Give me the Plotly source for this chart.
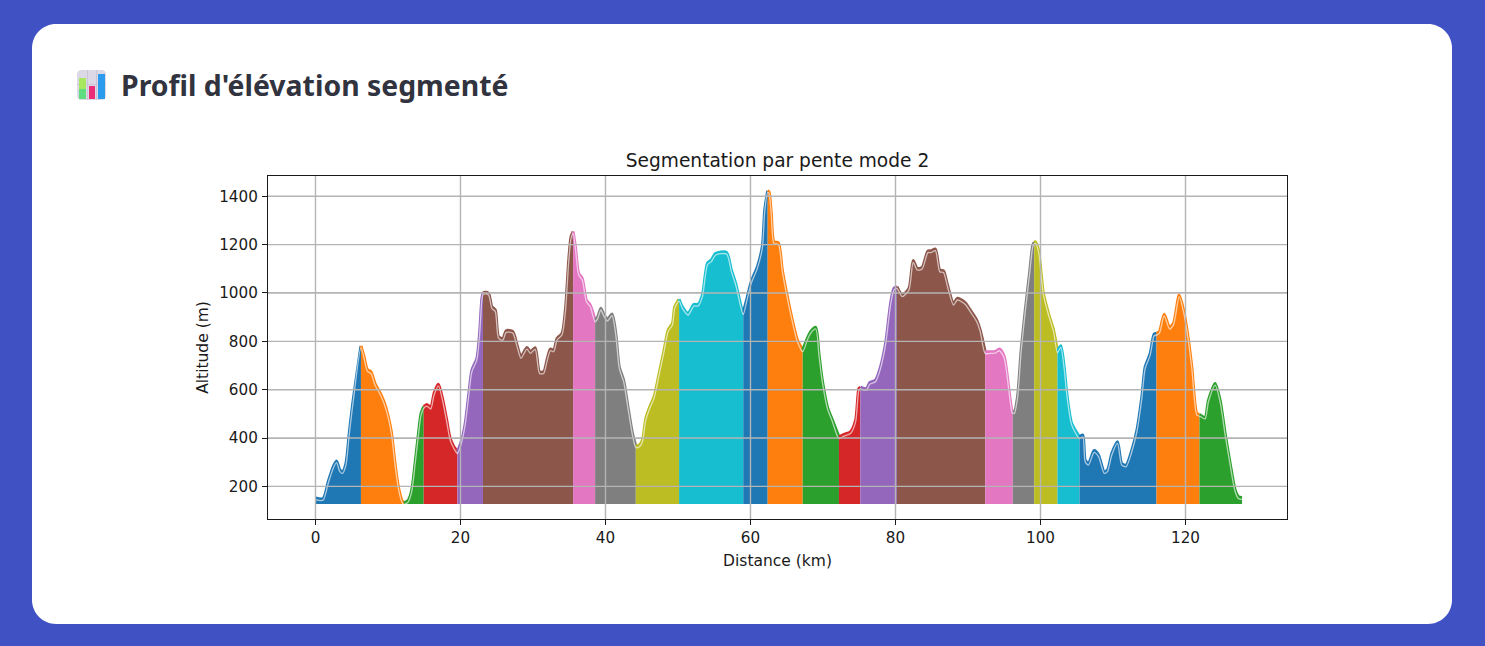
import numpy as np
import plotly.graph_objects as go

# Elevation profile, km along the route and altitude in metres
distance_km = [
    0, 1.06, 1.75, 2.44, 2.9, 3.36, 3.73, 4.2, 4.65, 5.2, 6.27,
    6.7, 7.14, 7.65, 8.2, 8.9, 9.45, 10.05, 10.5, 10.97, 11.43, 11.9, 12.2,
    12.8, 13.27, 13.73, 14.2, 14.56, 14.93,
    15.35, 15.9, 16.36, 16.96, 17.56, 18.1, 18.57, 19.03, 19.58,
    20.18, 20.65, 21.1, 21.57, 22.26, 22.63, 22.95, 23.1,
    23.35, 23.87, 24.33, 24.8, 25.25, 25.85, 26.3, 27.2, 27.8, 28.34, 29.17, 29.63,
    30.3, 30.9, 31.47, 31.93, 32.4, 32.86, 33.32, 34.0, 34.47, 34.93, 35.25, 35.53,
    35.85, 36.3, 36.8, 37.36, 37.9, 38.57,
    38.94, 39.36, 39.8, 40.27, 40.9, 41.42, 41.9, 42.5, 43.03, 43.72, 44.18,
    44.64, 45.1, 45.56, 46.15, 46.7, 47.4, 48.08, 48.64, 49.23, 49.55, 50.15,
    50.6, 51.4, 52.2, 52.77, 53.37, 54.06, 54.6, 55.2, 56.7, 57.36, 57.96, 58.65, 59.0,
    59.57, 60.1, 60.95, 61.63, 61.96, 62.37,
    62.55, 62.87, 63.24, 63.84, 64.39, 65.08, 65.77, 66.46, 67.2,
    67.84, 68.3, 69.0, 69.44, 69.9, 70.6, 71.3, 72.2,
    72.9, 73.8, 74.5, 74.95, 75.14,
    76.0, 76.47, 77.25, 77.94, 78.63, 79.32, 79.78, 80.2,
    80.93, 81.85, 82.44, 83.0, 83.68, 84.47, 84.9, 85.5, 86.1, 86.62, 87.17, 88.0,
    88.55, 89.6, 90.3, 91.2, 91.68, 92.37,
    93.06, 93.75, 94.34, 94.99, 95.6, 96.05, 96.18,
    96.4, 96.83, 97.33, 97.9, 98.48, 98.94, 99.13,
    99.3, 99.72, 100.4, 101.1, 101.8, 102.34,
    102.8, 103.26, 103.63, 104.3, 105.38,
    105.84, 106.16, 106.62, 107.4, 108.0, 108.78, 109.24, 109.84, 110.62, 111.2, 111.8,
    112.6, 113.3, 113.98, 114.44, 115.13, 115.68, 116.0,
    116.4, 117.06, 117.8, 118.34, 119.13, 119.72, 120.28, 120.87, 121.56, 121.93,
    122.7, 123.17, 124.09, 124.77, 125.47, 126.16, 126.85, 127.3, 127.8,
]
altitude_m = [
    152, 150, 219, 281, 305, 268, 261, 295, 419, 557, 781,
    737, 684, 674, 626, 588, 550, 488, 419, 295, 199, 143, 132,
    143, 185, 295, 419, 502, 530,
    539, 527, 585, 623, 557, 474, 399, 367, 343,
    392, 461, 571, 681, 730, 833, 978, 1000,
    1003, 999, 943, 930, 819, 812, 844, 841, 785, 737, 775, 757,
    774, 674, 674, 723, 768, 764, 812, 833, 930, 1137, 1233, 1254,
    1192, 1081, 1060, 971, 950, 888,
    902, 937, 910, 891, 913, 833, 695, 640, 543, 419, 368,
    370, 392, 481, 532, 571, 668, 764, 847, 874, 943, 974,
    943, 916, 953, 953, 992, 1123, 1137, 1164, 1168, 1095, 1040, 950, 918,
    985, 1047, 1109, 1192, 1343, 1423,
    1419, 1330, 1212, 1208, 1095, 985, 888, 806, 764,
    812, 840, 858, 750, 640, 530, 474, 405,
    415, 426, 474, 605, 610,
    605, 630, 640, 695, 792, 957, 1019, 1026,
    992, 1019, 1134, 1102, 1106, 1174, 1174, 1182, 1095, 1092, 1033, 957,
    978, 960, 930, 888, 847, 757,
    757, 758, 768, 737, 612, 515, 510,
    509, 571, 764, 930, 1081, 1199, 1210,
    1212, 1178, 999, 916, 847, 760,
    782, 695, 585, 461, 405,
    412, 309, 295, 348, 330, 261, 268, 337, 385, 295, 288,
    350, 433, 571, 695, 750, 830, 833,
    840, 912, 858, 874, 992, 930, 833, 695, 502, 498,
    486, 557, 626, 557, 419, 295, 185, 157, 153,
]

# Kilometre marks where one slope segment hands over to the next
segment_breaks_km = [
    0, 6.27, 12.2, 14.93, 19.58, 23.1, 35.53, 38.57, 44.18, 50.15, 59.0, 62.37,
    67.2, 72.2, 75.14, 80.2, 92.37, 96.18, 99.13, 102.34, 105.38, 116.0, 121.93, 127.8,
]
segment_colors = [
    "#1f77b4", "#ff7f0e", "#2ca02c", "#d62728", "#9467bd",
    "#8c564b", "#e377c2", "#7f7f7f", "#bcbd22", "#17becf",
]
x_ticks = [0, 20, 40, 60, 80, 100, 120]
y_ticks = [200, 400, 600, 800, 1000, 1200, 1400]
fill_floor_m = 127
raw_line_drop_m = 7

WIDTH, HEIGHT = 1485, 646
AX_L, AX_R, AX_T, AX_B = 268, 1287, 176, 519


def page_x(px):
    return (px - AX_L) / (AX_R - AX_L)


def page_y(py):
    return (AX_B - py) / (AX_B - AX_T)


def box(x0, y0, x1, y1, color, **kw):
    return dict(type="rect", xref="paper", yref="paper", x0=page_x(x0), x1=page_x(x1),
                y0=page_y(y1), y1=page_y(y0), fillcolor=color, line_width=0, **kw)


def rounded_box(x0, y0, x1, y1, r, color, layer="below"):
    c = 0.45 * r
    X, Y = page_x, page_y
    path = (
        f"M {X(x0 + r)} {Y(y0)} L {X(x1 - r)} {Y(y0)} "
        f"C {X(x1 - c)} {Y(y0)} {X(x1)} {Y(y0 + c)} {X(x1)} {Y(y0 + r)} "
        f"L {X(x1)} {Y(y1 - r)} "
        f"C {X(x1)} {Y(y1 - c)} {X(x1 - c)} {Y(y1)} {X(x1 - r)} {Y(y1)} "
        f"L {X(x0 + r)} {Y(y1)} "
        f"C {X(x0 + c)} {Y(y1)} {X(x0)} {Y(y1 - c)} {X(x0)} {Y(y1 - r)} "
        f"L {X(x0)} {Y(y0 + r)} "
        f"C {X(x0)} {Y(y0 + c)} {X(x0 + c)} {Y(y0)} {X(x0 + r)} {Y(y0)} Z"
    )
    return dict(type="path", xref="paper", yref="paper", path=path, fillcolor=color,
                line_width=0, layer=layer)


km = np.array(distance_km)
alt = np.array(altitude_m)
curve = dict(shape="spline", smoothing=0.7)

fig = go.Figure()

# Filled slope segments, cycling through the ten-colour palette
for i in range(len(segment_breaks_km) - 1):
    start, end = segment_breaks_km[i], segment_breaks_km[i + 1]
    mask = (km >= start) & (km <= end)
    seg_x, seg_y = km[mask].tolist(), alt[mask].tolist()
    color = segment_colors[i % len(segment_colors)]
    fig.add_trace(go.Scatter(
        x=seg_x + [seg_x[-1], seg_x[0]],
        y=seg_y + [fill_floor_m, fill_floor_m],
        mode="lines", fill="toself", fillcolor=color,
        line=dict(width=0), hoverinfo="skip", showlegend=False,
    ))
    fig.add_trace(go.Scatter(
        x=seg_x, y=seg_y, mode="lines",
        line=dict(color=color, width=3, **curve), hoverinfo="skip", showlegend=False,
    ))

# Pale raw altitude trace sitting just inside the coloured edge
fig.add_trace(go.Scatter(
    x=distance_km, y=(alt - raw_line_drop_m).tolist(), mode="lines",
    line=dict(color="rgba(255,255,255,0.62)", width=1.3, **curve),
    hoverinfo="skip", showlegend=False,
))

GRID = "#b4b4b4"
shapes = [
    dict(type="rect", xref="paper", yref="paper", x0=page_x(0), x1=page_x(WIDTH),
         y0=page_y(HEIGHT), y1=page_y(0), fillcolor="#3f51c3", line_width=0, layer="below"),
    rounded_box(32, 24, 1452, 624, 24, "#ffffff"),
]
# Grid runs over the filled area as well as the blank background
for t in x_ticks:
    shapes.append(dict(type="line", xref="x", yref="paper", x0=t, x1=t, y0=0, y1=1,
                       line=dict(color=GRID, width=1.4), layer="above"))
for t in y_ticks:
    shapes.append(dict(type="line", xref="paper", yref="y", x0=0, x1=1, y0=t, y1=t,
                       line=dict(color=GRID, width=1.4), layer="above"))

# Small bar-chart icon beside the heading
shapes += [
    rounded_box(77, 70, 106, 100, 4, "#dcd8e6", layer="above"),
    box(87, 70, 88, 100, "#c9c4d6", layer="above"),
    box(96, 70, 97, 100, "#c9c4d6", layer="above"),
    box(77, 84, 106, 85, "#c9c4d6", layer="above"),
    box(79, 78, 86, 89, "#a8e860", layer="above"),
    box(79, 89, 86, 99, "#5fdc80", layer="above"),
    box(89, 86, 95, 99, "#ea2f78", layer="above"),
    box(98, 74, 105, 99, "#2b9bee", layer="above"),
]

axis_style = dict(
    showgrid=True, gridcolor=GRID, gridwidth=1, zeroline=False,
    showline=True, linecolor="#1a1a1a", linewidth=1.2, mirror=True,
    ticks="outside", ticklen=5, tickwidth=1, tickcolor="#1a1a1a",
    tickfont=dict(family="DejaVu Sans", size=15.2, color="#1a1a1a"),
)

fig.update_layout(
    width=WIDTH, height=HEIGHT,
    margin=dict(l=AX_L, r=WIDTH - AX_R, t=AX_T, b=HEIGHT - AX_B, pad=0),
    paper_bgcolor="#3f51c3", plot_bgcolor="rgba(0,0,0,0)",
    showlegend=False,
    shapes=shapes,
    title=dict(
        text="Segmentation par pente mode 2",
        font=dict(family="DejaVu Sans", size=18.6, color="#1a1a1a"),
        xref="paper", x=0.5, xanchor="center",
        yref="paper", y=1, yanchor="bottom", pad=dict(b=9),
    ),
    xaxis=dict(
        range=[-6.55, 134.0], tickvals=x_ticks,
        title=dict(text="Distance (km)", standoff=8,
                   font=dict(family="DejaVu Sans", size=15.5, color="#1a1a1a")),
        **axis_style,
    ),
    yaxis=dict(
        range=[65, 1484], tickvals=y_ticks, ticklabelstandoff=1,
        title=dict(text="Altitude (m)", standoff=6,
                   font=dict(family="DejaVu Sans", size=15.5, color="#1a1a1a")),
        **axis_style,
    ),
    annotations=[dict(
        text="<b>Profil d'élévation segmenté</b>",
        xref="paper", yref="paper", x=page_x(119), y=page_y(85),
        xanchor="left", yanchor="middle", showarrow=False,
        font=dict(family="Noto Sans", size=28.4, color="#31333f"),
    )],
)

fig.write_html("out.html", config=dict(displayModeBar=False))
